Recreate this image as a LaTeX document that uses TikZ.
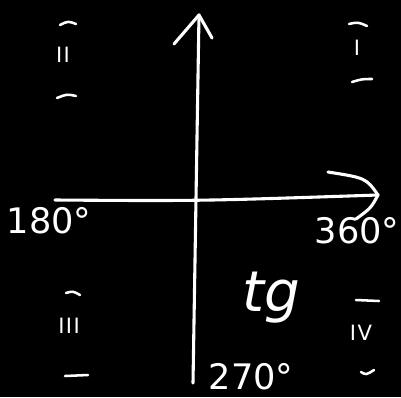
\documentclass[tikz,border=0pt]{standalone}
\usepackage{fontspec}
\setmainfont{DejaVu Sans}
\usepackage{tikz}

\tikzset{
  chalk/.style={draw=white, line width=2.2pt, line cap=round, line join=round},
  sgnbar/.style={draw=white, line width=1.8pt, line cap=round},
  deglabel/.style={text=white, inner sep=0pt, font=\fontsize{25}{27}\selectfont},
  quadlabel/.style={text=white, inner sep=0pt, font=\fontsize{15}{17}\selectfont},
}

\begin{document}
\begin{tikzpicture}[x=0.025cm, y=-0.025cm]
    % background
    \fill[black] (0,0) rectangle (401,397);
    \useasboundingbox (0,0) rectangle (401,397);

    % 1. axes
    \coordinate (xl) at (55,200);
    \coordinate (xr) at (378,195);
    \coordinate (xa) at (328,172);
    \coordinate (xc) at (356,219);
    \coordinate (yb) at (193,383);
    \coordinate (yt) at (199,15);
    \coordinate (ya) at (174,44);
    \coordinate (yc) at (212,38);
    \draw[chalk] (xl) .. controls (200,201) .. (xr);
    \draw[chalk] (xa) .. controls (366,178) .. (xr) .. controls (371,208) .. (xc);
    \draw[chalk] (yb) -- (yt);
    \draw[chalk] (ya) -- (yt) -- (yc);

    % 2. angle labels
    \node[deglabel] (a180) at (49,221) {180°};
    \node[deglabel] (a360) at (357,231) {360°};
    \node[deglabel] (a270) at (251,377) {270°};
    \node[text=white, inner sep=0pt, font=\fontsize{40}{42}\selectfont\itshape] (tg) at (271,298) {tg};

    % 3. quadrants
    \node[quadlabel] (q2) at (63,55) {I\kern1pt I};
    \node[quadlabel] (q1) at (357,48) {I};
    \node[quadlabel] (q3) at (69,326) {I\kern1pt I\kern1pt I};
    \node[quadlabel] (q4) at (361,333) {I\kern1pt V};
    \draw[sgnbar] (60,25) .. controls (68,21) .. (76,24);
    \draw[sgnbar] (57,98) .. controls (67,94) .. (76,96);
    \draw[sgnbar] (349,24) .. controls (358,22) .. (367,26);
    \draw[sgnbar] (352,82) .. controls (362,79) .. (372,79);
    \draw[sgnbar] (66,293) .. controls (73,291) .. (80,295);
    \draw[sgnbar] (65,376) -- (88,375);
    \draw[sgnbar] (356,300) -- (379,301);
    \draw[sgnbar] (361,372) .. controls (366,375) .. (374,370);
\end{tikzpicture}
\end{document}
